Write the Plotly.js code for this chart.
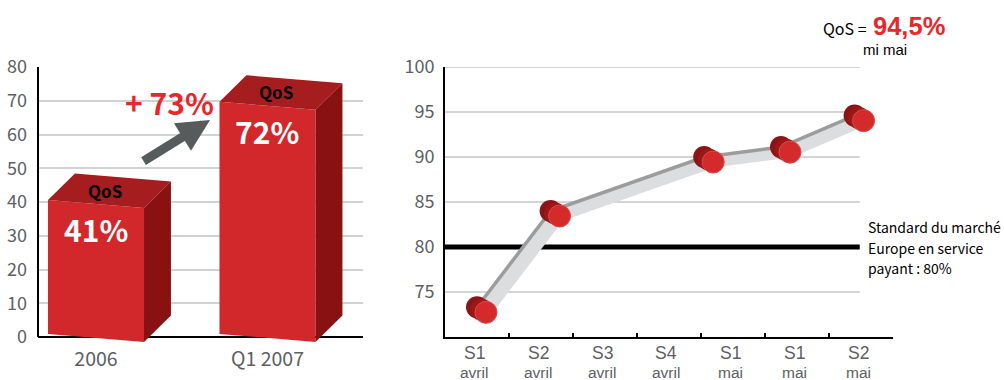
<!DOCTYPE html>
<html>
<head>
<meta charset="utf-8">
<script src="https://cdn.plot.ly/plotly-3.0.1.min.js"></script>
<style>
html,body{margin:0;padding:0;background:#fff;}
#chart{width:1004px;height:380px;}
</style>
</head>
<body>
<div id="chart"></div>
<script>
// ---- data ----
const barCats = ['2006', 'Q1 2007'];
const barHeights = [40.6, 69.7];
const barLabels = ['41%', '72%'];
const barTopLabel = 'QoS';
const growthLabel = '+ 73%';
const leftTicks = [0, 10, 20, 30, 40, 50, 60, 70, 80];

const weekLabels = ['S1', 'S2', 'S3', 'S4', 'S1', 'S1', 'S2'];
const monthLabels = ['avril', 'avril', 'avril', 'avril', 'mai', 'mai', 'mai'];
const pointPos = [0, 1.15, 3.55, 4.75, 5.9];
const qosValues = [73.3, 84.0, 90.0, 91.1, 94.6];
const rightTicks = [75, 80, 85, 90, 95, 100];
const marketStandard = 80;
const standardText = ['Standard du marché', 'Europe en service', 'payant : 80%'];
const headlinePrefix = 'QoS =';
const headlineValue = '94,5%';
const headlineSub = 'mi mai';

// ---- style ----
const FONT = '"Noto Sans CJK JP", "Liberation Sans", sans-serif';
const FONT2 = '"Liberation Sans", Arial, sans-serif';
const TICKCOL = '#5c6064';
const RED = '#d3282b', RED_TOP = '#a51d1f', RED_SIDE = '#8a1111';
const W = 1004, H = 380;
const px = v => v / W, py = v => (H - v) / H;

// bar geometry (data units)
const hw = 0.28, skew = 2.37, ddx = 0.157, ddy = 7.85, base = 0.9;

const shapes = [];
const annotations = [];

barHeights.forEach((v, i) => {
  const c = i;
  const L = c - hw, R = c + hw;
  const front = `M${L},${base} L${L},${v} L${R},${v - skew} L${R},${base - skew} Z`;
  const top = `M${L},${v} L${L + ddx},${v + ddy} L${R + ddx},${v - skew + ddy} L${R},${v - skew} Z`;
  const side = `M${R},${v - skew} L${R + ddx},${v - skew + ddy} L${R + ddx},${base - skew + ddy} L${R},${base - skew} Z`;
  [[front, RED], [top, RED_TOP], [side, RED_SIDE]].forEach(([p, col]) => {
    shapes.push({type: 'path', xref: 'x', yref: 'y', path: p, fillcolor: col, line: {width: 0}, layer: 'above'});
  });
  annotations.push({xref: 'x', yref: 'y', x: c + 0.05, y: v + 2.9, text: '<b>' + barTopLabel + '</b>', showarrow: false,
    font: {family: FONT, size: 17, color: '#000'}});
  annotations.push({xref: 'x', yref: 'y', x: c, y: v - 8.6, text: '<b>' + barLabels[i] + '</b>', showarrow: false,
    font: {family: FONT, size: 30, color: '#fff'}});
});

// left axis line (stops at baseline)
shapes.push({type: 'line', xref: 'x domain', yref: 'y', x0: 0, x1: 0, y0: 0, y1: 80, line: {color: '#000', width: 2}, layer: 'above'});

// growth label + arrow
annotations.push({xref: 'x', yref: 'y', x: 0.426, y: 69.6, text: '<b>' + growthLabel + '</b>', showarrow: false,
  font: {family: FONT, size: 30, color: '#e8262b'}});
annotations.push({xref: 'x', yref: 'y', x: 0.665, y: 64.3, ax: -68, ay: 42, text: '', showarrow: true,
  arrowhead: 2, arrowsize: 0.72, arrowwidth: 9, arrowcolor: '#565c5c', standoff: 0});

// right gridlines
rightTicks.forEach(t => {
  shapes.push({type: 'line', xref: 'x2', yref: 'y2', x0: -0.5, x1: 5.98, y0: t, y1: t, line: {color: '#d4d4d4', width: 2}, layer: 'below'});
});
// market standard line
shapes.push({type: 'line', xref: 'x2', yref: 'y2', x0: -0.5, x1: 5.98, y0: marketStandard, y1: marketStandard, line: {color: '#000', width: 5}, layer: 'below'});

// week/month labels
weekLabels.forEach((w, i) => {
  annotations.push({xref: 'x2', yref: 'paper', x: i, xshift: -3, y: py(353), text: w, showarrow: false, yanchor: 'middle',
    font: {family: FONT2, size: 17.5, color: TICKCOL}});
  annotations.push({xref: 'x2', yref: 'paper', x: i, xshift: -3, y: py(372), text: monthLabels[i], showarrow: false, yanchor: 'middle',
    font: {family: FONT2, size: 15.5, color: TICKCOL}});
});

// headline
annotations.push({xref: 'paper', yref: 'paper', x: px(869), y: py(28), xanchor: 'right', yanchor: 'middle', showarrow: false,
  text: headlinePrefix, font: {family: FONT, size: 16, color: '#000'}});
annotations.push({xref: 'paper', yref: 'paper', x: px(871), y: py(26), xanchor: 'left', yanchor: 'middle', showarrow: false,
  text: '<b>' + headlineValue + '</b>', font: {family: FONT2, size: 25.5, color: '#e8262b'}});
annotations.push({xref: 'paper', yref: 'paper', x: px(885), y: py(49.5), xanchor: 'center', yanchor: 'middle', showarrow: false,
  text: headlineSub, font: {family: FONT2, size: 15, color: '#000'}});
standardText.forEach((t, i) => {
  annotations.push({xref: 'paper', yref: 'paper', x: px(866), y: py(227.5 + 20 * i), xanchor: 'left', yanchor: 'middle', showarrow: false,
    text: t, font: {family: FONT, size: 14, color: '#000'}});
});

// ---- traces ----
const dx = 0.14, dy = -0.56;
const frontX = pointPos.map(x => x + dx), frontY = qosValues.map(y => y + dy);
const midX = pointPos.map(x => x + dx / 2), midY = qosValues.map(y => y + dy / 2);

const traces = [
  {x: [0, 1], y: barHeights, xaxis: 'x', yaxis: 'y', mode: 'markers', marker: {opacity: 0}, hoverinfo: 'skip', showlegend: false},
  {x: pointPos.concat(frontX.slice().reverse()), y: qosValues.concat(frontY.slice().reverse()), xaxis: 'x2', yaxis: 'y2',
    mode: 'lines', fill: 'toself', fillcolor: '#dcdddf', line: {width: 0}, hoverinfo: 'skip', showlegend: false},
  {x: frontX, y: frontY, xaxis: 'x2', yaxis: 'y2', mode: 'lines', line: {color: '#dcdddf', width: 11}, hoverinfo: 'skip', showlegend: false},
  {x: pointPos, y: qosValues, xaxis: 'x2', yaxis: 'y2', mode: 'lines', line: {color: '#9c9c9c', width: 3.5}, showlegend: false},
  {x: pointPos, y: qosValues, xaxis: 'x2', yaxis: 'y2', mode: 'markers', marker: {size: 22, color: '#8c1414'}, showlegend: false},
  {x: midX, y: midY, xaxis: 'x2', yaxis: 'y2', mode: 'markers', marker: {size: 22, color: '#9a1818'}, hoverinfo: 'skip', showlegend: false},
  {x: frontX, y: frontY, xaxis: 'x2', yaxis: 'y2', mode: 'markers', marker: {size: 22, color: '#d42a2b', line: {color: '#e04848', width: 1}}, hoverinfo: 'skip', showlegend: false}
];

const layout = {
  width: W, height: H,
  margin: {l: 0, r: 0, t: 0, b: 0},
  paper_bgcolor: '#fff', plot_bgcolor: 'rgba(0,0,0,0)',
  showlegend: false,
  font: {family: FONT},
  xaxis: {domain: [px(38), px(363)], range: [-0.3382, 1.5569], tickvals: [0, 1], ticktext: barCats,
    showgrid: false, zeroline: false, showline: false, ticks: '', ticklabelstandoff: 0,
    tickfont: {family: FONT, size: 19.5, color: TICKCOL}, fixedrange: true},
  yaxis: {domain: [py(345.44), py(67)], range: [-2.5, 80], tickvals: leftTicks,
    showgrid: true, gridcolor: '#d2d2d2', gridwidth: 2, zeroline: true, zerolinecolor: '#000', zerolinewidth: 2,
    showline: false, ticks: '', ticklabelstandoff: 10,
    tickfont: {family: FONT, size: 18, color: TICKCOL}, fixedrange: true},
  xaxis2: {domain: [px(445), px(893)], range: [-0.5, 6.5], anchor: 'y2', tickvals: [0.5, 1.5, 2.5, 3.5, 4.5, 5.5, 6.5],
    showticklabels: false, ticks: 'inside', ticklen: 4, tickwidth: 2, tickcolor: '#000',
    showgrid: false, zeroline: false, showline: true, linecolor: '#000', linewidth: 2, fixedrange: true},
  yaxis2: {domain: [py(337), py(67)], range: [70, 100], anchor: 'x2', tickvals: rightTicks,
    showgrid: false, zeroline: false, showline: true, linecolor: '#000', linewidth: 2, ticks: '', ticklabelstandoff: 5,
    tickfont: {family: FONT, size: 18, color: TICKCOL}, fixedrange: true},
  shapes: shapes,
  annotations: annotations
};

Plotly.newPlot('chart', traces, layout, {staticPlot: true, displayModeBar: false});
</script>
</body>
</html>
